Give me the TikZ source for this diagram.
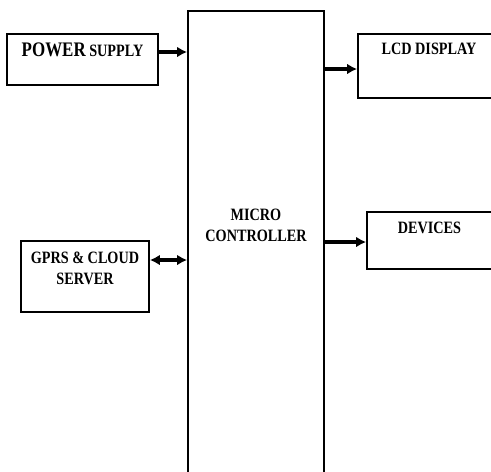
\documentclass[tikz,border=0pt]{standalone}
\usepackage{fontspec}
\newfontfamily\blockfont[FakeStretch=0.82]{Liberation Serif}
\usetikzlibrary{positioning,calc,arrows.meta}

\begin{document}
\begin{tikzpicture}[
    x=0.75pt, y=-0.75pt,
    >=Latex,
    line/.style={draw, -{Latex[length=7.5pt,width=8pt]}, line width=2.3pt},
    both/.style={draw, {Latex[length=7.5pt,width=8pt]}-{Latex[length=7.5pt,width=8pt]}, line width=2.3pt},
    box/.style={
        draw,
        line width=1.3pt,
        inner sep=0pt
    },
    txt/.style={
        anchor=north,
        align=center,
        inner sep=0pt,
        font=\blockfont\bfseries\fontsize{13pt}{15.75pt}\selectfont
    }
]
\useasboundingbox (0,0) rectangle (491,471);
\clip (0,0) rectangle (491,471);
% Central block
\node[box, minimum width=102pt, minimum height=359.25pt,
      label={[txt, yshift=-149.25pt]north:MICRO\\CONTROLLER}] (mcu) at (256,250.5) {};
% Left blocks
\node[box, minimum width=113.25pt, minimum height=38.25pt,
      label={[txt, yshift=-7pt]north:{\fontsize{15.5pt}{16pt}\selectfont POWER} SUPPLY}] (psu) at (82.5,59.5) {};
\node[box, minimum width=96pt, minimum height=53.25pt,
      label={[txt, yshift=-9pt]north:GPRS \& CLOUD\\SERVER}] (gprs) at (85,276.5) {};
% Right blocks
\node[box, minimum width=106.5pt, minimum height=48pt,
      label={[txt, yshift=-7pt]north:LCD DISPLAY}] (lcd) at (429,66) {};
\node[box, minimum width=93.75pt, minimum height=42.75pt,
      label={[txt, yshift=-8.25pt]north:DEVICES}] (dev) at (429.5,240.5) {};
% Connections
\draw[line] ($(psu.east)+(0,-7.5)$) -- ($(psu.east -| mcu.west)+(0,-7.5)$);
\draw[both] ($(gprs.east)+(0,-16.5)$) -- ($(gprs.east -| mcu.west)+(0,-16.5)$);
\draw[line] ($(lcd.west -| mcu.east)+(0,3)$) -- ($(lcd.west)+(0,3)$);
\draw[line] ($(dev.west -| mcu.east)+(0,1.5)$) -- ($(dev.west)+(0,1.5)$);
\end{tikzpicture}
\end{document}
